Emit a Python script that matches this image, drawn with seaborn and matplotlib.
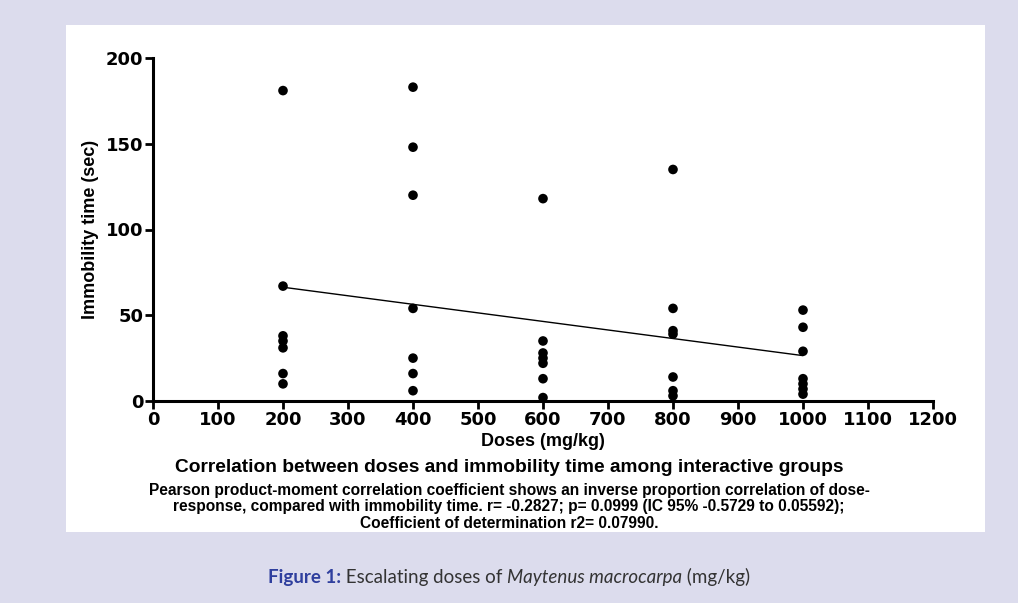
import numpy as np
import pandas as pd
import matplotlib.pyplot as plt
import seaborn as sns
from matplotlib.patches import Rectangle

# -------------------------
# Data
# -------------------------
dose_levels = [200, 400, 600, 800, 1000]
time_200 = [181, 67, 38, 35, 31, 16, 10]
time_400 = [183, 148, 120, 54, 25, 16, 6]
time_600 = [118, 35, 28, 25, 22, 13, 2]
time_800 = [135, 54, 41, 39, 14, 6, 3]
time_1000 = [53, 43, 29, 13, 10, 7, 4]

x_ticks = list(range(0, 1300, 100))
y_ticks = [0, 50, 100, 150, 200]

groups = [time_200, time_400, time_600, time_800, time_1000]
df = pd.DataFrame({
    "dose": np.repeat(dose_levels, [len(g) for g in groups]),
    "time": np.concatenate(groups),
})

# -------------------------
# Figure
# -------------------------
sns.set_style("ticks")
plt.rcParams["font.family"] = ["Liberation Sans", "DejaVu Sans"]

fig = plt.figure(figsize=(10.18, 6.03), dpi=100)
fig.patch.set_facecolor("#dcdced")
fig.patches.append(Rectangle((66 / 1018, 1 - 532 / 603), (985 - 66) / 1018, (532 - 25) / 603,
                             transform=fig.transFigure, facecolor="white", edgecolor="none", zorder=-5))

ax = fig.add_axes([153 / 1018, 1 - 401 / 603, (933 - 153) / 1018, (401 - 58) / 603])
ax.set_facecolor("none")

sns.regplot(data=df, x="dose", y="time", ax=ax, ci=None, truncate=True,
            scatter_kws={"s": 48, "color": "black", "edgecolor": "none", "alpha": 1},
            line_kws={"color": "black", "lw": 1.0})

ax.set_xlim(0, 1200)
ax.set_ylim(0, 200)
ax.set_xticks(x_ticks)
ax.set_yticks(y_ticks)
tick_font = {"fontsize": 13, "fontweight": "bold", "family": "DejaVu Sans"}
ax.set_xticklabels([str(t) for t in x_ticks], **tick_font)
ax.set_yticklabels([str(t) for t in y_ticks], **tick_font)
ax.tick_params(width=2, length=6, direction="out", pad=1, colors="black")
for side in ["left", "bottom"]:
    ax.spines[side].set_linewidth(2.2)
    ax.spines[side].set_color("black")
sns.despine(ax=ax)
for lbl in ax.get_xticklabels() + ax.get_yticklabels():
    lbl.set_clip_on(False)

ax.set_xlabel("Doses (mg/kg)", fontsize=13, fontweight="bold", labelpad=3, color="black")
ax.set_ylabel("Immobility time (sec)", fontsize=13, fontweight="bold", labelpad=5, color="black")

# -------------------------
# Notes under the chart
# -------------------------
fig.text(0.5, 1 - 468 / 603, "Correlation between doses and immobility time among interactive groups",
         ha="center", va="center", fontsize=13.8, fontweight="bold", color="black")
notes = [
    "Pearson product-moment correlation coefficient shows an inverse proportion correlation of dose-",
    "response, compared with immobility time. r= -0.2827; p= 0.0999 (IC 95% -0.5729 to 0.05592);",
    "Coefficient of determination r2= 0.07990.",
]
for i, line in enumerate(notes):
    fig.text(0.5, 1 - (490 + 17 * i) / 603, line, ha="center", va="center",
             fontsize=11.2, fontweight="bold", color="black")

# -------------------------
# Caption
# -------------------------
parts = [
    ("Figure 1:", {"color": "#2f3f9e", "fontweight": "bold"}),
    (" Escalating doses of ", {"color": "#333333"}),
    ("Maytenus macrocarpa", {"color": "#333333", "style": "italic"}),
    (" (mg/kg)", {"color": "#333333"}),
]
renderer = fig.canvas.get_renderer()
texts = []
x = 0.0
for s, kw in parts:
    t = fig.text(x, 1 - 577 / 603, s, ha="left", va="center", fontsize=13.5,
                 family=["Lato", "DejaVu Sans"], **kw)
    w = t.get_window_extent(renderer).width / fig.bbox.width
    texts.append((t, w))
    x += w
start = 0.5 - x / 2
for t, w in texts:
    t.set_x(start)
    start += w

plt.savefig("out.png", dpi=100, facecolor=fig.get_facecolor())
plt.close()
